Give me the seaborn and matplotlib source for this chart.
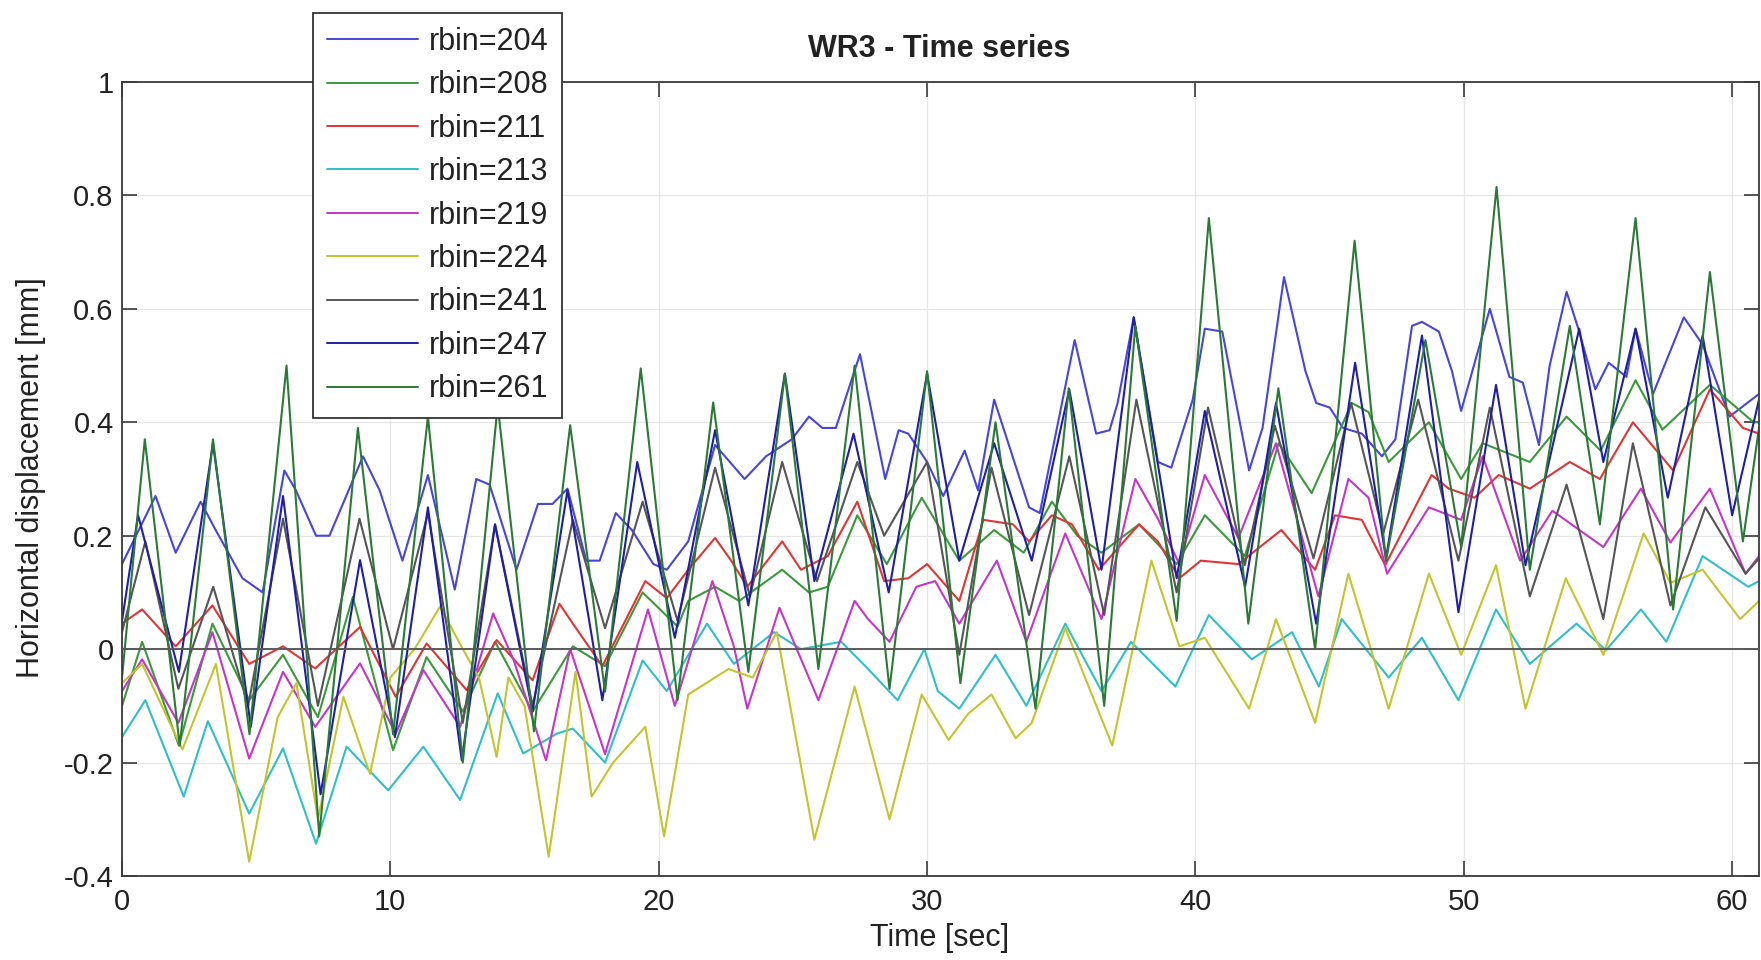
import matplotlib
matplotlib.use("Agg")
import matplotlib.pyplot as plt
import pandas as pd
import seaborn as sns

# ---------------- data ----------------
rbins = ["204", "208", "211", "213", "219", "224", "241", "247", "261"]
line_colors = ["#4646dc", "#3a9a3a", "#e03535", "#2fbfc8", "#c535c8",
               "#c4c42e", "#555555", "#1e1ea6", "#2a7a36"]

series_204 = [(0, 0.15), (1.25, 0.27), (2.0, 0.17), (2.93, 0.26), (3.49, 0.21), (4.49, 0.125), (5.24, 0.10),
              (6.05, 0.315), (6.48, 0.28), (7.23, 0.20), (7.73, 0.20), (8.98, 0.34), (9.6, 0.28), (10.45, 0.156),
              (11.4, 0.307), (12.4, 0.105), (13.2, 0.30), (13.7, 0.29), (14.7, 0.14), (15.5, 0.256), (16.04, 0.256),
              (16.6, 0.283), (17.3, 0.156), (17.8, 0.156), (18.4, 0.24), (19.0, 0.21), (19.8, 0.15), (20.3, 0.14),
              (21.1, 0.19), (22.1, 0.36), (23.2, 0.30), (24.0, 0.34), (24.96, 0.37), (25.6, 0.41), (26.1, 0.39),
              (26.6, 0.39), (27.5, 0.52), (28.44, 0.30), (28.94, 0.386), (29.3, 0.38), (30.0, 0.33), (30.6, 0.27),
              (31.4, 0.35), (31.9, 0.28), (32.5, 0.44), (33.8, 0.25), (34.2, 0.24), (35.5, 0.545), (36.3, 0.38),
              (36.8, 0.386), (37.1, 0.434), (37.7, 0.585), (38.6, 0.33), (39.1, 0.32), (39.9, 0.44), (40.35, 0.565),
              (41.0, 0.56), (42.0, 0.315), (42.5, 0.39), (43.3, 0.656), (44.1, 0.49), (44.5, 0.434), (45.0, 0.426),
              (45.5, 0.39), (46.2, 0.38), (46.95, 0.34), (47.45, 0.37), (48.07, 0.57), (48.44, 0.577), (49.07, 0.56),
              (49.56, 0.49), (49.9, 0.42), (50.97, 0.60), (51.7, 0.48), (52.2, 0.47), (52.8, 0.36), (53.2, 0.50),
              (53.83, 0.63), (54.3, 0.56), (54.9, 0.458), (55.4, 0.505), (56.06, 0.48), (56.4, 0.565), (57.05, 0.45),
              (58.2, 0.585), (58.9, 0.537), (59.9, 0.41), (61.0, 0.45)]

series_208 = [(0, -0.10), (0.75, 0.013), (2.12, -0.17), (3.37, 0.045), (4.74, -0.09), (6.0, -0.01), (7.3, -0.12),
              (8.6, 0.092), (10.1, -0.178), (11.35, -0.014), (12.7, -0.11), (13.9, 0.013), (15.3, -0.11),
              (16.8, 0.005), (18.0, -0.03), (19.4, 0.10), (20.7, 0.04), (21.1, 0.085), (22.1, 0.11), (23.0, 0.085),
              (24.6, 0.14), (25.6, 0.10), (26.3, 0.11), (27.4, 0.236), (28.5, 0.15), (29.8, 0.267), (31.2, 0.156),
              (32.5, 0.21), (33.6, 0.17), (34.65, 0.26), (35.6, 0.20), (36.5, 0.17), (37.9, 0.22), (39.3, 0.15),
              (40.35, 0.236), (41.84, 0.164), (43.1, 0.363), (44.33, 0.275), (45.83, 0.434), (46.45, 0.418),
              (47.2, 0.33), (48.7, 0.40), (49.9, 0.30), (50.7, 0.363), (52.46, 0.33), (53.83, 0.41), (55.1, 0.35),
              (56.4, 0.474), (57.4, 0.387), (59.17, 0.466), (60.8, 0.40), (61.0, 0.40)]

series_211 = [(0, 0.045), (0.75, 0.07), (2.0, 0.005), (3.37, 0.077), (4.74, -0.026), (6.0, 0.005), (7.2, -0.034),
              (8.87, 0.039), (10.2, -0.084), (11.35, 0.01), (12.84, -0.072), (13.96, 0.016), (15.3, -0.055),
              (16.3, 0.08), (16.8, 0.045), (17.9, -0.03), (19.5, 0.12), (20.3, 0.09), (21.1, 0.14), (22.1, 0.196),
              (22.7, 0.156), (23.3, 0.11), (24.6, 0.19), (25.3, 0.14), (26.3, 0.164), (27.4, 0.26), (28.4, 0.12),
              (29.3, 0.125), (30.0, 0.15), (31.2, 0.085), (32.1, 0.228), (33.2, 0.22), (33.8, 0.19), (34.65, 0.236),
              (35.4, 0.22), (36.4, 0.14), (37.9, 0.22), (38.6, 0.19), (39.4, 0.125), (40.2, 0.156), (41.6, 0.15),
              (43.2, 0.21), (44.46, 0.14), (45.2, 0.236), (46.2, 0.228), (47.07, 0.148), (48.8, 0.307),
              (49.44, 0.283), (50.4, 0.267), (51.3, 0.307), (52.46, 0.283), (53.95, 0.33), (55.07, 0.30),
              (56.3, 0.40), (57.8, 0.315), (59.17, 0.458), (60.4, 0.39), (61.0, 0.38)]

series_213 = [(0, -0.155), (0.87, -0.09), (2.3, -0.26), (3.2, -0.127), (4.74, -0.29), (6.0, -0.175), (7.23, -0.343),
              (8.37, -0.172), (9.92, -0.249), (11.23, -0.172), (12.6, -0.266), (14.0, -0.078), (14.95, -0.184),
              (16.2, -0.149), (16.8, -0.14), (18.0, -0.20), (19.4, -0.02), (20.3, -0.074), (21.8, 0.045),
              (22.8, -0.026), (24.3, 0.03), (25.3, 0.0), (26.8, 0.013), (27.7, -0.03), (28.9, -0.09), (29.9, 0.0),
              (30.4, -0.074), (31.2, -0.105), (32.55, -0.01), (33.7, -0.10), (35.15, 0.045), (36.5, -0.074),
              (37.6, 0.013), (39.25, -0.066), (40.5, 0.06), (42.1, -0.018), (43.6, 0.03), (44.6, -0.066),
              (45.45, 0.053), (47.2, -0.05), (48.44, 0.02), (49.8, -0.09), (51.2, 0.07), (52.46, -0.026),
              (54.2, 0.045), (55.3, -0.002), (56.6, 0.07), (57.55, 0.013), (58.9, 0.164), (60.6, 0.11), (61.0, 0.12)]

series_219 = [(0, -0.074), (0.75, -0.018), (2.1, -0.13), (3.37, 0.03), (4.74, -0.193), (6.0, -0.04), (7.2, -0.137),
              (8.87, -0.025), (10.2, -0.149), (11.23, -0.037), (12.6, -0.137), (13.83, 0.063), (14.6, -0.02),
              (15.8, -0.196), (16.7, 0.0), (18.0, -0.185), (19.6, 0.07), (20.6, -0.10), (22.0, 0.12), (22.8, 0.005),
              (23.3, -0.105), (24.5, 0.073), (25.1, 0.005), (25.95, -0.09), (27.3, 0.085), (27.8, 0.053),
              (28.6, 0.013), (29.6, 0.11), (30.3, 0.12), (31.2, 0.045), (32.6, 0.156), (33.7, 0.013), (35.15, 0.204),
              (36.5, 0.053), (37.76, 0.30), (38.6, 0.23), (39.4, 0.15), (40.35, 0.307), (41.6, 0.196), (43.0, 0.363),
              (44.58, 0.093), (45.7, 0.30), (46.45, 0.267), (47.14, 0.133), (48.7, 0.25), (49.9, 0.228),
              (50.7, 0.34), (52.1, 0.156), (53.3, 0.244), (55.2, 0.18), (56.6, 0.283), (57.7, 0.188), (59.17, 0.283),
              (60.5, 0.133), (61.0, 0.164)]

series_224 = [(0, -0.06), (0.75, -0.026), (2.25, -0.177), (3.5, -0.026), (4.74, -0.375), (5.8, -0.12), (6.5, -0.06),
              (7.3, -0.30), (8.25, -0.084), (9.24, -0.22), (10.0, -0.05), (10.9, 0.0), (11.85, 0.075), (12.7, 0.0),
              (13.3, -0.05), (13.96, -0.19), (14.4, -0.05), (15.0, -0.10), (15.9, -0.366), (16.9, -0.04),
              (17.5, -0.26), (18.3, -0.20), (19.5, -0.137), (20.2, -0.33), (21.1, -0.08), (22.6, -0.035),
              (23.5, -0.05), (24.4, 0.03), (25.8, -0.336), (27.3, -0.066), (28.6, -0.30), (29.8, -0.08),
              (30.8, -0.16), (31.55, -0.113), (32.4, -0.08), (33.3, -0.157), (33.9, -0.13), (35.15, 0.037),
              (36.9, -0.17), (38.36, 0.156), (39.4, 0.005), (40.35, 0.02), (42.0, -0.105), (43.0, 0.053),
              (44.46, -0.13), (45.7, 0.133), (47.2, -0.105), (48.7, 0.133), (49.9, -0.01), (51.2, 0.148),
              (52.3, -0.105), (53.8, 0.125), (55.2, -0.01), (56.7, 0.204), (57.7, 0.117), (58.9, 0.14),
              (60.3, 0.053), (61.0, 0.085)]

series_241 = [(0, 0.03), (0.87, 0.19), (2.1, -0.07), (3.4, 0.11), (4.7, -0.10), (6.0, 0.23), (7.3, -0.10),
              (8.85, 0.23), (10.1, 0.0), (11.4, 0.24), (12.7, -0.13), (13.9, 0.22), (15.3, -0.10), (16.8, 0.228),
              (18.0, 0.037), (19.4, 0.26), (20.7, 0.05), (22.1, 0.32), (23.4, 0.093), (24.6, 0.33), (25.9, 0.12),
              (27.4, 0.33), (28.4, 0.20), (30.0, 0.33), (31.2, -0.01), (32.4, 0.32), (33.8, 0.06), (35.3, 0.34),
              (36.6, 0.06), (37.8, 0.44), (39.3, 0.10), (40.47, 0.426), (41.84, 0.148), (42.96, 0.394), (44.4, 0.16),
              (45.8, 0.434), (47.0, 0.204), (48.3, 0.44), (49.8, 0.156), (50.97, 0.426), (52.46, 0.093),
              (53.83, 0.29), (55.2, 0.053), (56.3, 0.363), (57.7, 0.077), (59.0, 0.25), (60.5, 0.133), (61.0, 0.16)]

series_247 = [(0, 0.05), (0.6, 0.236), (2.12, -0.04), (3.39, 0.363), (4.8, -0.137), (6.0, 0.27), (7.4, -0.256),
              (8.87, 0.157), (10.17, -0.155), (11.4, 0.25), (12.66, -0.196), (13.9, 0.22), (15.3, -0.11),
              (16.6, 0.28), (17.9, -0.09), (19.2, 0.33), (20.6, 0.02), (22.1, 0.386), (23.34, 0.077), (24.7, 0.486),
              (25.8, 0.12), (27.26, 0.38), (28.57, 0.10), (30.0, 0.486), (31.2, 0.156), (32.5, 0.363), (33.9, 0.156),
              (35.3, 0.458), (36.5, 0.14), (37.7, 0.585), (39.3, 0.125), (40.35, 0.42), (41.85, 0.11), (43.0, 0.434),
              (44.5, 0.045), (45.95, 0.505), (47.1, 0.16), (48.44, 0.553), (49.8, 0.065), (51.2, 0.466),
              (52.3, 0.148), (54.3, 0.565), (55.2, 0.33), (56.4, 0.565), (57.6, 0.267), (58.9, 0.553), (60.0, 0.236),
              (61.0, 0.44)]

series_261 = [(0, -0.05), (0.85, 0.37), (2.15, -0.17), (3.39, 0.37), (4.75, -0.15), (6.13, 0.50), (7.35, -0.33),
              (8.79, 0.39), (10.1, -0.15), (11.4, 0.41), (12.7, -0.20), (14.0, 0.43), (15.35, -0.145), (16.7, 0.395),
              (18.0, -0.075), (19.33, 0.495), (20.7, -0.09), (22.03, 0.435), (23.34, -0.04), (24.7, 0.485),
              (25.95, -0.035), (27.3, 0.50), (28.6, -0.07), (30.0, 0.49), (31.24, -0.06), (32.55, 0.40),
              (34.04, -0.105), (35.28, 0.46), (36.6, -0.10), (37.76, 0.57), (39.3, 0.05), (40.5, 0.76),
              (41.97, 0.045), (43.09, 0.46), (44.46, 0.0), (45.93, 0.72), (47.1, 0.155), (48.57, 0.545),
              (49.9, 0.18), (51.22, 0.815), (52.46, 0.14), (53.95, 0.57), (55.07, 0.22), (56.4, 0.76), (57.8, 0.07),
              (59.17, 0.665), (60.4, 0.19), (61.0, 0.39)]

all_series = [series_204, series_208, series_211, series_213, series_219,
              series_224, series_241, series_247, series_261]

x_ticks = [0, 10, 20, 30, 40, 50, 60]
y_ticks = [-0.4, -0.2, 0, 0.2, 0.4, 0.6, 0.8, 1]
y_tick_labels = ["-0.4", "-0.2", "0", "0.2", "0.4", "0.6", "0.8", "1"]

labels = [f"rbin={r}" for r in rbins]
rows = []
for lab, pts in zip(labels, all_series):
    for t, v in pts:
        rows.append((lab, t, v))
df = pd.DataFrame(rows, columns=["series", "time", "disp"])

# ---------------- figure ----------------
sns.set_theme(style="white")
plt.rcParams["font.family"] = ["Liberation Sans", "DejaVu Sans"]

W, H = 1761, 960
fig = plt.figure(figsize=(W / 100, H / 100), dpi=100)
fig.patch.set_facecolor("white")
ax_l, ax_r, ax_t, ax_b = 122, 1759, 82, 876
ax = fig.add_axes([ax_l / W, 1 - ax_b / H, (ax_r - ax_l) / W, (ax_b - ax_t) / H])

ax.grid(True, color="#e6e6e6", lw=0.9)
ax.set_axisbelow(True)

sns.lineplot(data=df, x="time", y="disp", hue="series", hue_order=labels,
             palette=dict(zip(labels, line_colors)), estimator=None, sort=False,
             lw=1.5, ax=ax, legend=True)

ax.axhline(0, color="#5a5a5a", lw=1.4, zorder=5)

ax.set_xlim(0, 61)
ax.set_ylim(-0.4, 1)
ax.set_xticks(x_ticks)
ax.set_xticklabels([str(v) for v in x_ticks])
ax.set_yticks(y_ticks)
ax.set_yticklabels(y_tick_labels)
ax.tick_params(direction="in", length=11, width=1.2, color="#3a3a3a",
               labelsize=21, labelcolor="#222222", top=True, right=True,
               bottom=True, left=True)
ax.tick_params(axis="x", pad=9)
ax.tick_params(axis="y", pad=6)
for s in ax.spines.values():
    s.set_visible(True)
    s.set_color("#3a3a3a")
    s.set_linewidth(1.3)

ax.set_xlabel("")
ax.set_ylabel("")
fig.text(940 / W, 1 - 938 / H, "Time [sec]", ha="center", va="center", fontsize=22, color="#222222")
fig.text(31 / W, 1 - 478 / H, "Horizontal displacement [mm]", ha="center", va="center",
         rotation=90, fontsize=22, color="#222222")
fig.text(939 / W, 1 - 49 / H, "WR3 - Time series", ha="center", va="center",
         fontsize=22, fontweight="bold", color="#222222")

handles, hlabels = ax.get_legend_handles_labels()
if ax.get_legend() is not None:
    ax.get_legend().remove()
leg = fig.legend(handles, hlabels, loc="upper left", bbox_to_anchor=(313 / W, 1 - 13 / H),
                 frameon=True, fancybox=False, edgecolor="#333333", facecolor="white",
                 framealpha=1, fontsize=22, handlelength=3.0, handletextpad=0.33,
                 labelspacing=0.44, borderpad=0.45, borderaxespad=0)
leg.get_frame().set_linewidth(1.3)
for txt in leg.get_texts():
    txt.set_color("#222222")
for h in leg.get_lines():
    h.set_linewidth(1.4)

fig.savefig("out.png", dpi=100, facecolor="white")
